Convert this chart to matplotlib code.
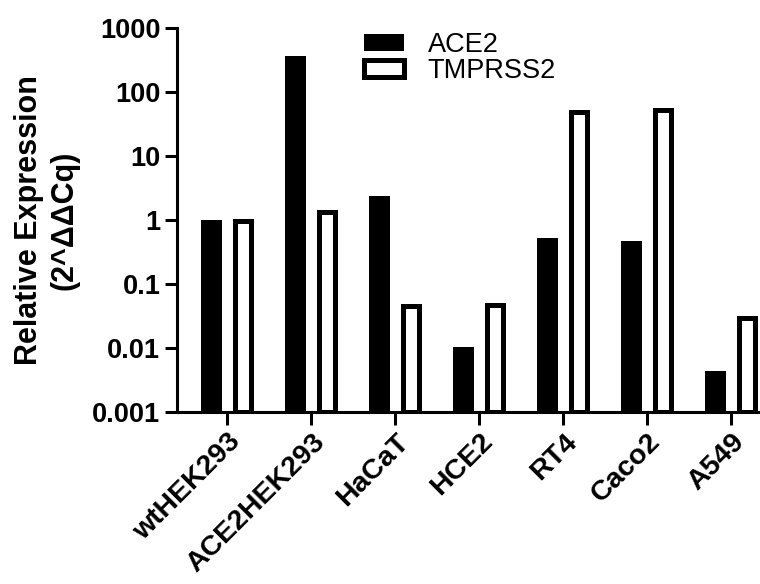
import matplotlib
matplotlib.use("Agg")
import matplotlib.pyplot as plt
import numpy as np
from matplotlib.patches import Patch

plt.rcParams['font.family'] = ['Liberation Sans', 'DejaVu Sans']

cell_lines = ['wtHEK293', 'ACE2HEK293', 'HaCaT', 'HCE2', 'RT4', 'Caco2', 'A549']
ace2 = [1.0, 370, 2.4, 0.0093, 0.52, 0.47, 0.0034]
tmprss2 = [0.95, 1.31, 0.044, 0.046, 48, 52, 0.028]
y_ticks = [0.001, 0.01, 0.1, 1, 10, 100, 1000]
y_tick_labels = ['0.001', '0.01', '0.1', '1', '10', '100', '1000']

W, H = 760, 584
fig = plt.figure(figsize=(W / 100, H / 100), dpi=100)
# axes box in pixels: left spine at 177, bottom at 412, top at 28, runs off the right edge
ax = fig.add_axes([177 / W, 1 - 412 / H, (W - 177) / W, (412 - 28) / H])

x = np.arange(len(cell_lines))
off = 0.185
ax.bar(x - off, ace2, width=0.25, bottom=0.001, color='black', edgecolor='black', linewidth=0)
ax.bar(x + off, tmprss2, width=0.19, bottom=0.001, color='white', edgecolor='black', linewidth=3.6)

ax.set_yscale('log')
ax.set_ylim(0.001, 1000)
ax.set_xlim(-0.601, 6.34)
ax.set_yticks(y_ticks)
ax.set_yticklabels(y_tick_labels, fontsize=19.5, fontweight='bold')
ax.minorticks_off()
ax.set_xticks(x)
ax.set_xticklabels(cell_lines, fontsize=20.5, fontweight='bold', rotation=45,
                   ha='right', rotation_mode='anchor')

for side in ['top', 'right']:
    ax.spines[side].set_visible(False)
for side in ['left', 'bottom']:
    ax.spines[side].set_linewidth(2.2)
ax.tick_params(axis='y', length=9, width=2.2, pad=3)
ax.tick_params(axis='x', length=9, width=2.2, pad=3)

ax.set_ylabel('Relative Expression\n(2^ΔΔCq)', fontsize=22, fontweight='bold', labelpad=9,
              linespacing=1.25)

handles = [Patch(facecolor='black', edgecolor='black', linewidth=0),
           Patch(facecolor='white', edgecolor='black', linewidth=3.6)]
fig.legend(handles, ['ACE2', 'TMPRSS2'], loc='upper left',
           bbox_to_anchor=(345 / W, 1 - 13 / H), frameon=False, fontsize=19.5,
           handlelength=1.48, handleheight=0.62, handletextpad=0.88, labelspacing=0.0,
           borderpad=0.2)

fig.savefig('out.png', dpi=100)
